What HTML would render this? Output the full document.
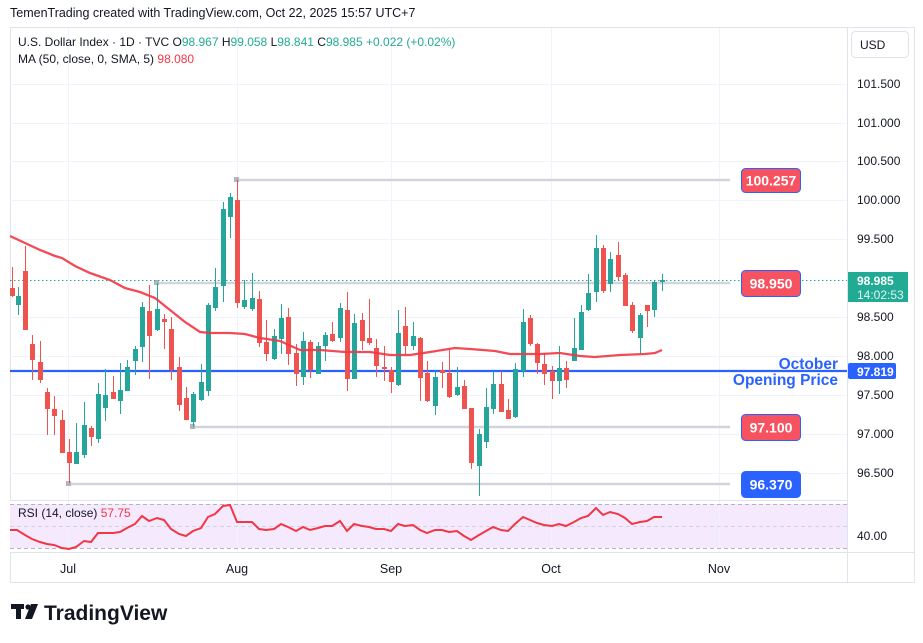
<!DOCTYPE html>
<html><head><meta charset="utf-8"><style>
html,body{margin:0;padding:0;background:#fff;width:923px;height:643px;overflow:hidden;font-family:"Liberation Sans",sans-serif}
</style></head><body>
<svg id="s" width="923" height="643" xmlns="http://www.w3.org/2000/svg" font-family="Liberation Sans, sans-serif">
<rect x="0" y="0" width="923" height="643" fill="#fff"/>
<text x="10" y="17" font-size="12.5" fill="#131722">TemenTrading created with TradingView.com, Oct 22, 2025 15:57 UTC+7</text>
<rect x="10.5" y="27.5" width="904" height="555" fill="none" stroke="#e0e3eb"/>
<rect x="10" y="500" width="837" height="52" fill="#fff"/>
<rect x="10" y="504" width="837" height="44" fill="#f3e5fd" opacity="0.85"/>
<g id="grid" stroke="#f0f3fa" stroke-width="1"></g>
<line x1="10" y1="500.5" x2="847" y2="500.5" stroke="#e0e3eb"/>
<line x1="10" y1="552.5" x2="915" y2="552.5" stroke="#e0e3eb"/>
<line x1="847.5" y1="28" x2="847.5" y2="582" stroke="#e0e3eb"/>
<line x1="10" y1="504.5" x2="847" y2="504.5" stroke="#b2b5be" stroke-dasharray="4,3"/>
<line x1="10" y1="526.5" x2="847" y2="526.5" stroke="#d1d4dc" stroke-dasharray="4,3"/>
<line x1="10" y1="548.5" x2="847" y2="548.5" stroke="#b2b5be" stroke-dasharray="4,3"/>
<g stroke="#d1d4dc" stroke-width="2.5">
<line x1="237" y1="180" x2="730" y2="180"/>
<line x1="157" y1="283" x2="730" y2="283"/>
<line x1="193" y1="427" x2="730" y2="427"/>
<line x1="69" y1="484" x2="730" y2="484"/>
</g>
<g fill="#b2b5be"><rect x="234" y="177" width="5" height="5"/><rect x="154" y="280" width="5" height="5"/><rect x="190" y="424" width="5" height="5"/><rect x="66" y="481" width="5" height="5"/></g>
<line x1="10" y1="280.5" x2="847" y2="280.5" stroke="#22ab94" stroke-dasharray="1.5,2.5"/>
<line x1="10" y1="371" x2="847" y2="371" stroke="#2962ff" stroke-width="2.2"/>
<g id="c"></g>
<polyline id="ma" fill="none" stroke="#f23645" stroke-width="2.3" opacity="0.9"/>
<polyline id="rsi" fill="none" stroke="#f23645" stroke-width="2"/>
<text x="838" y="369" font-size="15.5" font-weight="bold" fill="#2962ff" text-anchor="end">October</text>
<text x="838" y="385" font-size="15.5" font-weight="bold" fill="#2962ff" text-anchor="end">Opening Price</text>
<g font-size="14" fill="#fff" text-anchor="middle" font-weight="bold">
<rect x="741.5" y="168.5" width="59" height="24" rx="4" fill="#f7525f" stroke="#2962ff"/><text x="771" y="185.5">100.257</text>
<rect x="741.5" y="270.5" width="59" height="26" rx="4" fill="#f7525f" stroke="#2962ff"/><text x="771" y="288.5">98.950</text>
<rect x="741.5" y="414.5" width="59" height="26" rx="4" fill="#f7525f" stroke="#2962ff"/><text x="771" y="432.5">97.100</text>
<rect x="741.5" y="471.5" width="59" height="26" rx="4" fill="#2962ff" stroke="#2962ff"/><text x="771" y="489.5">96.370</text>
</g>
<g font-size="12" fill="#131722">
<text x="857" y="88">101.500</text><text x="857" y="127">101.000</text><text x="857" y="165">100.500</text><text x="857" y="204">100.000</text><text x="857" y="243">99.500</text><text x="857" y="321">98.500</text><text x="857" y="360">98.000</text><text x="857" y="399">97.500</text><text x="857" y="438">97.000</text><text x="857" y="477">96.500</text><text x="857" y="540">40.00</text>
</g>
<rect x="848" y="272" width="60" height="30" fill="#22ab94"/>
<text x="857" y="285" font-size="12" fill="#fff" font-weight="bold">98.985</text>
<text x="857" y="299" font-size="12" fill="#e0f5f1">14:02:53</text>
<rect x="848" y="363" width="48" height="16" rx="2" fill="#2962ff"/>
<text x="857" y="376" font-size="12" fill="#fff" font-weight="bold">97.819</text>
<rect x="851.5" y="31.5" width="57" height="26" rx="4" fill="#fff" stroke="#e0e3eb"/>
<text x="860" y="49" font-size="12" fill="#131722">USD</text>
<g font-size="12.5" fill="#131722" text-anchor="middle">
<text x="68" y="573">Jul</text><text x="237" y="573">Aug</text><text x="391" y="573">Sep</text><text x="551" y="573">Oct</text><text x="719" y="573">Nov</text>
</g>
<text x="18" y="46" font-size="12" fill="#131722">U.S. Dollar Index · 1D · TVC  O<tspan fill="#22ab94">98.967</tspan>  H<tspan fill="#22ab94">99.058</tspan>  L<tspan fill="#22ab94">98.841</tspan>  C<tspan fill="#22ab94">98.985</tspan> <tspan fill="#22ab94">+0.022 (+0.02%)</tspan></text>
<text x="18" y="63" font-size="12" fill="#131722">MA (50, close, 0, SMA, 5)  <tspan fill="#f23645">98.080</tspan></text>
<text x="18" y="517" font-size="12" fill="#131722">RSI (14, close)  <tspan fill="#f23645">57.75</tspan></text>
<g fill="#131722"><rect x="11" y="604" width="13" height="5"/><rect x="16" y="604" width="5" height="15"/><circle cx="28" cy="607" r="2.6"/><path d="M31 604 h7 l-6 15 h-7z"/></g>
<text x="44" y="620" font-size="21" font-weight="bold" fill="#131722">TradingView</text>
</svg>
<script>
var NS="http://www.w3.org/2000/svg",s=document.getElementById('s');
function el(p,t,a){var e=document.createElementNS(NS,t);for(var k in a)e.setAttribute(k,a[k]);p.appendChild(e);return e;}
var g=document.getElementById('grid');
[84,123,161,200,239,317,356,395,434,473].forEach(function(y){el(g,'line',{x1:10,x2:847,y1:y+.5,y2:y+.5});});
[68,237,391,551,719].forEach(function(x){el(g,'line',{x1:x+.5,x2:x+.5,y1:28,y2:552});});
var C=[[12,288,296,267,297,'r'],[18,296,305,287,315,'g'],[25,271,330,246,330,'r'],[32,344,360,335,380,'r'],[40,362,380,341,383,'r'],[47,392,409,388,435,'r'],[54,409,416,396,435,'r'],[62,420,453,410,453,'r'],[69,452,463,439,483,'r'],[76,452,464,423,464,'g'],[84,425,455,402,458,'g'],[91,428,437,426,446,'r'],[98,394,439,383,443,'g'],[105,395,408,369,421,'g'],[113,392,399,376,399,'r'],[120,390,401,363,414,'g'],[127,367,391,360,391,'g'],[135,349,361,346,375,'g'],[142,307,347,302,362,'g'],[149,311,336,285,379,'r'],[157,309,330,283,331,'g'],[164,319,322,314,349,'r'],[171,329,370,317,380,'r'],[179,367,405,357,411,'r'],[186,398,420,387,420,'r'],[193,394,422,392,427,'g'],[201,382,400,364,401,'g'],[208,305,391,303,396,'g'],[215,287,308,268,311,'g'],[223,209,286,202,302,'g'],[230,197,217,193,238,'g'],[237,200,303,180,308,'r'],[244,300,307,280,309,'g'],[252,298,309,273,311,'g'],[259,299,343,291,347,'r'],[266,342,354,320,361,'r'],[274,336,359,329,360,'g'],[281,318,339,304,354,'g'],[288,317,354,308,365,'r'],[296,353,374,344,386,'r'],[303,341,377,332,385,'g'],[310,342,370,340,378,'r'],[318,346,374,342,374,'g'],[325,335,346,332,361,'g'],[332,334,341,322,342,'r'],[340,308,338,303,342,'g'],[347,310,379,292,391,'r'],[354,323,379,314,379,'g'],[362,320,341,313,350,'r'],[369,338,343,299,345,'r'],[376,348,366,339,377,'r'],[384,367,369,346,381,'r'],[391,370,382,367,393,'r'],[398,333,385,310,386,'g'],[405,326,346,307,355,'r'],[413,336,346,322,350,'g'],[420,338,378,337,401,'r'],[427,373,401,361,402,'r'],[435,377,406,371,415,'g'],[442,370,373,362,388,'r'],[449,373,397,350,398,'r'],[457,387,395,367,396,'g'],[464,386,409,380,409,'r'],[471,408,463,408,469,'r'],[479,434,466,429,496,'g'],[486,407,442,388,448,'g'],[493,384,409,371,414,'g'],[501,384,412,371,412,'r'],[508,410,419,399,419,'r'],[515,369,417,363,418,'g'],[523,322,371,309,377,'g'],[530,318,344,315,346,'r'],[537,344,363,343,374,'r'],[544,364,374,353,385,'r'],[552,371,381,366,399,'r'],[559,368,381,346,394,'g'],[566,368,380,361,388,'r'],[574,348,361,318,361,'g'],[581,312,350,305,350,'g'],[588,293,310,274,311,'g'],[596,248,292,235,302,'g'],[603,248,291,245,293,'r'],[610,259,284,252,292,'g'],[618,255,277,242,280,'r'],[625,275,306,273,306,'r'],[632,305,331,302,333,'r'],[640,315,338,313,354,'g'],[647,305,311,305,327,'r'],[654,282,310,280,317,'g'],[662,280,282,274,291,'g']];
var cg=document.getElementById('c');
C.forEach(function(c){var col=c[5]=='g'?'#26a69a':'#ef5350';
el(cg,'line',{x1:c[0]+.5,x2:c[0]+.5,y1:c[3],y2:c[4],stroke:col,'stroke-width':1});
el(cg,'rect',{x:c[0]-2,y:c[1],width:5,height:Math.max(1,c[2]-c[1]),fill:col});});
document.getElementById('ma').setAttribute('points',"10,236 25,243 40,250 55,256 62,258 75,266 90,273 110,280 125,288 140,292 155,298 170,310 185,322 200,332 210,333 230,333 245,334 260,338 280,341 300,350 320,350 345,352 370,352 390,355 410,355 430,352 455,348 470,349 495,351 510,354 540,354 560,353 580,356 595,357 620,355 645,354 655,353 662,350");
document.getElementById('rsi').setAttribute('points',"10,530 17,530 25,535 32,539 40,542 47,544 54,545 62,548 69,549 76,547 84,541 91,542 98,533 105,533 113,533 120,532 127,528 135,524 142,516 149,521 157,518 164,520 171,529 179,534 186,536 193,531 201,528 208,517 215,514 223,506 230,505 237,522 244,522 252,522 259,529 266,530 274,529 281,524 288,527 296,531 303,527 310,530 318,528 325,526 332,526 340,521 347,531 354,524 362,526 369,527 376,529 384,529 391,531 398,524 405,526 413,525 420,530 427,533 435,530 442,530 449,532 457,531 464,536 471,540 479,535 486,531 493,527 501,530 508,531 515,524 523,517 530,520 537,523 544,525 552,526 559,524 566,526 574,522 581,518 588,516 596,508 603,515 610,512 618,514 625,518 632,524 640,522 647,521 654,517 662,517");
</script>
</body></html>
